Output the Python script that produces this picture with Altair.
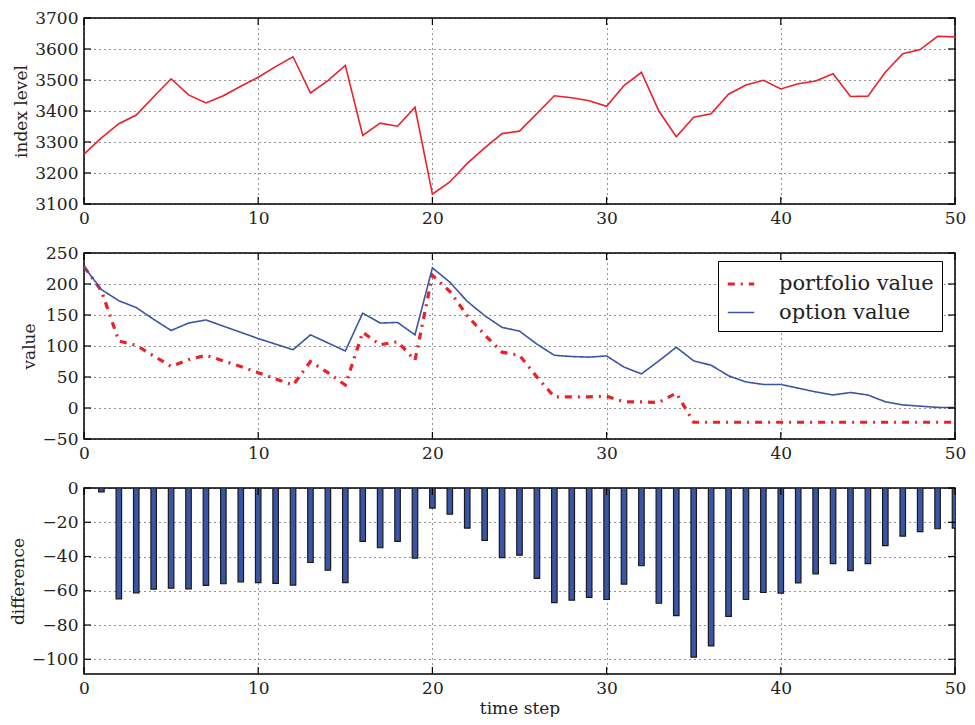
import altair as alt
import pandas as pd

# ---------------- data ----------------
steps = list(range(51))

index_level = [3261, 3313, 3359, 3387, 3446, 3504, 3452, 3426, 3449, 3480,
               3509, 3543, 3575, 3458, 3498, 3547, 3321, 3361, 3351, 3412,
               3132, 3171, 3231, 3281, 3327, 3335, 3392, 3449, 3443, 3433,
               3415, 3482, 3525, 3400, 3317, 3380, 3391, 3454, 3484, 3499,
               3471, 3488, 3497, 3520, 3447, 3448, 3525, 3585, 3598, 3641, 3639]

portfolio_value = [228, 189, 108, 101, 84, 67, 78, 85, 76, 67,
                   57, 47, 37, 75, 57, 37, 122, 102, 107, 77,
                   214, 188, 149, 118, 90, 85, 50, 18, 18, 18,
                   19, 10, 10, 9, 24, -23, -23, -23, -23, -23,
                   -23, -23, -23, -23, -23, -23, -23, -23, -23, -23, -23]

option_value = [228, 191, 173, 162, 143, 125, 137, 142, 132, 122,
                112, 103, 94, 118, 105, 92, 153, 137, 138, 118,
                226, 203, 172, 149, 130, 124, 103, 85, 83, 82,
                84, 66, 55, 76, 98, 76, 69, 52, 42, 38,
                38, 32, 26, 21, 25, 21, 10, 5, 3, 1, 0.5]

difference = [0, -2.3, -64.7, -61.2, -59.1, -58.5, -58.9, -56.9, -55.9, -54.8,
              -55.2, -55.7, -56.7, -43.5, -48.0, -55.2, -31.2, -34.9, -31.2, -40.9,
              -11.7, -15.2, -23.4, -30.6, -40.7, -39.2, -52.8, -66.9, -65.5, -63.9,
              -65.1, -56.1, -45.4, -67.3, -74.5, -98.8, -92.2, -75.0, -65.1, -61.0,
              -61.4, -55.4, -50.1, -44.2, -48.3, -44.1, -33.7, -28.1, -25.5, -23.8, -23.4]

x_ticks = [0, 10, 20, 30, 40, 50]
level_ticks = [3100, 3200, 3300, 3400, 3500, 3600, 3700]
value_ticks = [-50, 0, 50, 100, 150, 200, 250]
diff_ticks = [-100, -80, -60, -40, -20, 0]

series_names = ["portfolio value", "option value"]

# ---------------- styling ----------------
W, H = 871, 186
TICK = 7
RED = "#ec2027"
BLUE = "#3a55a5"
FONT = "DejaVu Serif"

xscale = alt.Scale(domain=[0, 50], nice=False, zero=False, padding=0)


def x_axis(title=None):
    return alt.Axis(values=x_ticks, labelFlush=False, format="d", title=title)


def y_axis(vals, title):
    return alt.Axis(values=vals, format="d", title=title)


def inward_ticks(yfield, yscale, xax, yax, yvals):
    xt = pd.DataFrame({"t": x_ticks})
    yt = pd.DataFrame({yfield: yvals})
    base_x = alt.Chart(xt).mark_rule(color="black", strokeWidth=1.2)
    base_y = alt.Chart(yt).mark_rule(color="black", strokeWidth=1.2)
    xb = base_x.encode(x=alt.X("t:Q", scale=xscale, axis=xax),
                       y=alt.value(H), y2=alt.value(H - TICK))
    xtp = base_x.encode(x=alt.X("t:Q", scale=xscale, axis=xax),
                        y=alt.value(0), y2=alt.value(TICK))
    yl = base_y.encode(y=alt.Y(f"{yfield}:Q", scale=yscale, axis=yax),
                       x=alt.value(0), x2=alt.value(TICK))
    yr = base_y.encode(y=alt.Y(f"{yfield}:Q", scale=yscale, axis=yax),
                       x=alt.value(W), x2=alt.value(W - TICK))
    return [xb, xtp, yl, yr]


# ---------------- top panel ----------------
df_top = pd.DataFrame({"t": steps, "level": index_level})
lev_scale = alt.Scale(domain=[3100, 3700], nice=False, zero=False)
xa_top = x_axis()
ya_top = y_axis(level_ticks, "index level")
top_line = alt.Chart(df_top).mark_line(color=RED, strokeWidth=1.6).encode(
    x=alt.X("t:Q", scale=xscale, axis=xa_top),
    y=alt.Y("level:Q", scale=lev_scale, axis=ya_top),
)
top = alt.layer(top_line, *inward_ticks("level", lev_scale, xa_top, ya_top, level_ticks)
                ).properties(width=W, height=H)

# ---------------- middle panel ----------------
rows = []
for t, p in zip(steps, portfolio_value):
    rows.append({"t": t, "value": p, "series": series_names[0]})
for t, o in zip(steps, option_value):
    rows.append({"t": t, "value": o, "series": series_names[1]})
df_mid = pd.DataFrame(rows)
val_scale = alt.Scale(domain=[-50, 250], nice=False, zero=False)
xa_mid = x_axis()
ya_mid = y_axis(value_ticks, "value")

leg = alt.Legend(title=None, orient="none", legendX=634, legendY=243,
                 strokeColor="black", fillColor="white", padding=8,
                 labelFontSize=21, labelFont=FONT, labelColor="#222",
                 symbolType="stroke", symbolSize=700, labelOffset=23,
                 rowPadding=4, cornerRadius=0, labelLimit=300)

mid_line = alt.Chart(df_mid).mark_line().encode(
    x=alt.X("t:Q", scale=xscale, axis=xa_mid),
    y=alt.Y("value:Q", scale=val_scale, axis=ya_mid),
    color=alt.Color("series:N",
                    scale=alt.Scale(domain=series_names, range=[RED, BLUE]),
                    legend=leg),
    strokeDash=alt.StrokeDash("series:N",
                              scale=alt.Scale(domain=series_names,
                                              range=[[7, 6, 2, 6], [1, 0]]),
                              legend=leg),
    strokeWidth=alt.StrokeWidth("series:N",
                                scale=alt.Scale(domain=series_names, range=[3.2, 1.6]),
                                legend=leg),
    order=alt.Order("t:Q"),
)
mid = alt.layer(mid_line, *inward_ticks("value", val_scale, xa_mid, ya_mid, value_ticks)
                ).properties(width=W, height=H)

# ---------------- bottom panel ----------------
df_bot = pd.DataFrame({"t": steps, "diff": difference})
diff_scale = alt.Scale(domain=[-108.6, 0], nice=False, zero=False)
xa_bot = x_axis("time step")
ya_bot = y_axis(diff_ticks, "difference")
bars = alt.Chart(df_bot).mark_bar(width=5.5, color=BLUE, stroke="#1a1a1a",
                                  strokeWidth=1.2, clip=True).encode(
    x=alt.X("t:Q", scale=xscale, axis=xa_bot),
    y=alt.Y("diff:Q", scale=diff_scale, axis=ya_bot),
)
bot = alt.layer(bars, *inward_ticks("diff", diff_scale, xa_bot, ya_bot, diff_ticks)
                ).properties(width=W, height=H)

chart = alt.vconcat(top, mid, bot, spacing=16).properties(
    padding={"left": 0, "top": 0, "right": 0, "bottom": 0}
).configure(
    font=FONT,
    padding={"left": 0, "top": 0, "right": 0, "bottom": 0},
).configure_view(
    stroke="black", strokeWidth=1.5
).configure_scale(
    continuousPadding=0
).configure_axis(
    labelFont=FONT, titleFont=FONT, labelFontSize=17, titleFontSize=17,
    titleFontWeight="normal", labelColor="#222", titleColor="#222",
    domain=False, ticks=False, labelPadding=6, titlePadding=4,
    grid=True, gridColor="black", gridDash=[1, 4], gridWidth=1, gridOpacity=0.85,
).configure_axisX(
    labelPadding=6
).configure_legend(
    labelFont=FONT
)

chart.save("out.html", embed_options={"renderer": "svg", "actions": False})
